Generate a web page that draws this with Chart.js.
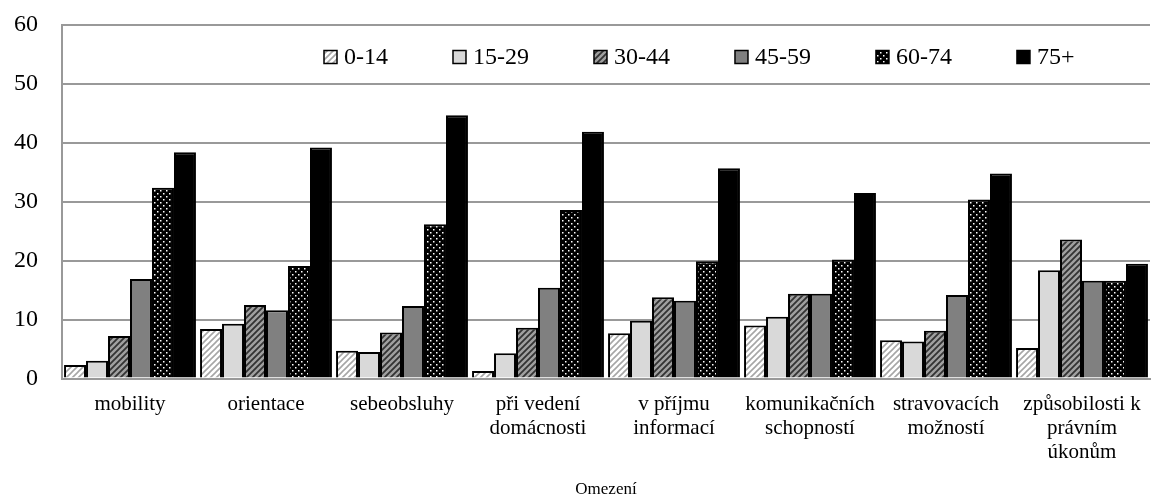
<!DOCTYPE html>
<html>
<head>
<meta charset="utf-8">
<script src="https://cdn.jsdelivr.net/npm/chart.js@4"></script>
<style>
  body { margin: 0; background: #fff; }
  #wrap { width: 1151px; height: 498px; }
</style>
</head>
<body>
<div id="wrap"><canvas id="omezeniChart"></canvas></div>
<script>
// DATA
var categories = [
    ['mobility'],
    ['orientace'],
    ['sebeobsluhy'],
    ['při vedení', 'domácnosti'],
    ['v příjmu', 'informací'],
    ['komunikačních', 'schopností'],
    ['stravovacích', 'možností'],
    ['způsobilosti k', 'právním', 'úkonům']
];
var seriesNames = ['0-14', '15-29', '30-44', '45-59', '60-74', '75+'];
var age0_14  = [2.3, 8.4, 4.7, 1.3, 7.7, 9.0, 6.5, 5.2];
var age15_29 = [3.0, 9.3, 4.5, 4.3, 9.8, 10.5, 6.3, 18.4];
var age30_44 = [7.2, 12.5, 7.8, 8.6, 13.8, 14.4, 8.1, 23.6];
var age45_59 = [16.9, 11.6, 12.3, 15.4, 13.2, 14.4, 14.2, 16.6];
var age60_74 = [32.4, 19.1, 26.2, 28.6, 19.9, 20.2, 30.4, 16.6];
var age75    = [38.4, 39.2, 44.7, 41.9, 35.7, 31.5, 34.8, 19.5];
var yTicks = [0, 10, 20, 30, 40, 50, 60];

var FONT = '"Liberation Serif", "Times New Roman", serif';

// PATTERNS
function makeTile(n, draw) {
    var c = document.createElement('canvas');
    c.width = n; c.height = n;
    var g = c.getContext('2d');
    draw(g, n);
    return document.createElement('canvas').getContext('2d').createPattern(c, 'repeat');
}
function diag(bg, fg, lw) {
    return makeTile(6, function (g, n) {
        g.fillStyle = bg;
        g.fillRect(0, 0, n, n);
        g.strokeStyle = fg;
        g.lineWidth = lw;
        g.beginPath();
        g.moveTo(-1, n + 1); g.lineTo(n + 1, -1);
        g.moveTo(-1, 1); g.lineTo(1, -1);
        g.moveTo(n - 1, n + 1); g.lineTo(n + 1, n - 1);
        g.stroke();
    });
}
var dots = makeTile(6, function (g, n) {
    g.fillStyle = '#000';
    g.fillRect(0, 0, n, n);
    g.fillStyle = '#fff';
    g.fillRect(1, 1, 1.5, 1.5);
    g.fillRect(4, 4, 1.5, 1.5);
});

var fills = [
    diag('#ffffff', '#a6a6a6', 1.6),
    '#d9d9d9',
    diag('#a0a0a0', '#333333', 1.8),
    '#808080',
    dots,
    '#000000'
];
var allValues = [age0_14, age15_29, age30_44, age45_59, age60_74, age75];

var datasets = seriesNames.map(function (name, i) {
    return {
        label: name,
        data: allValues[i],
        backgroundColor: fills[i],
        borderColor: '#000',
        borderWidth: 2,
        categoryPercentage: 0.97,
        barPercentage: 1.0
    };
});

// LEGEND INSIDE PLOT AREA
var innerLegend = {
    id: 'innerLegend',
    afterDraw: function (chart) {
        var ctx = chart.ctx;
        ctx.save();
        ctx.font = '24px ' + FONT;
        ctx.textBaseline = 'middle';
        var x = 324, y = 57, box = 13;
        chart.data.datasets.forEach(function (ds) {
            ctx.fillStyle = ds.backgroundColor;
            ctx.fillRect(x, y - box / 2, box, box);
            ctx.lineWidth = 1.5;
            ctx.strokeStyle = '#000';
            ctx.strokeRect(x, y - box / 2, box, box);
            ctx.fillStyle = '#000';
            ctx.fillText(ds.label, x + box + 7, y + 1);
            x += box + 7 + ctx.measureText(ds.label).width + 65;
        });
        ctx.restore();
    }
};

var ctxOmezeni = document.getElementById('omezeniChart').getContext('2d');
var omezeniChart = new Chart(ctxOmezeni, {
    type: 'bar',
    data: {
        labels: categories,
        datasets: datasets
    },
    plugins: [innerLegend],
    options: {
        responsive: true,
        maintainAspectRatio: false,
        animation: false,
        layout: {
            padding: { top: 25, left: 10, right: 1, bottom: 0 }
        },
        plugins: {
            legend: { display: false },
            tooltip: { enabled: false }
        },
        scales: {
            x: {
                afterFit: function (axis) {
                    axis.paddingLeft = 0;
                    axis.paddingRight = 0;
                },
                grid: { display: false, drawTicks: false },
                border: { display: true, color: '#999', width: 2 },
                ticks: {
                    color: '#000',
                    font: { family: FONT, size: 21, lineHeight: 1.15 },
                    padding: 14,
                    maxRotation: 0,
                    autoSkip: false
                },
                title: {
                    display: true,
                    text: 'Omezení',
                    color: '#000',
                    font: { family: FONT, size: 17, lineHeight: 1.0 },
                    padding: { top: 2, bottom: 0 }
                }
            },
            y: {
                min: 0,
                max: 60,
                afterBuildTicks: function (axis) {
                    axis.ticks = yTicks.map(function (v) { return { value: v }; });
                },
                afterFit: function (axis) {
                    axis.width = 52;
                    axis.paddingTop = 0;
                    axis.paddingBottom = 0;
                },
                grid: { color: '#999', lineWidth: 2, drawTicks: false },
                border: { display: true, color: '#999', width: 2 },
                ticks: {
                    color: '#000',
                    font: { family: FONT, size: 24 },
                    padding: 24
                }
            }
        }
    }
});
</script>
</body>
</html>
